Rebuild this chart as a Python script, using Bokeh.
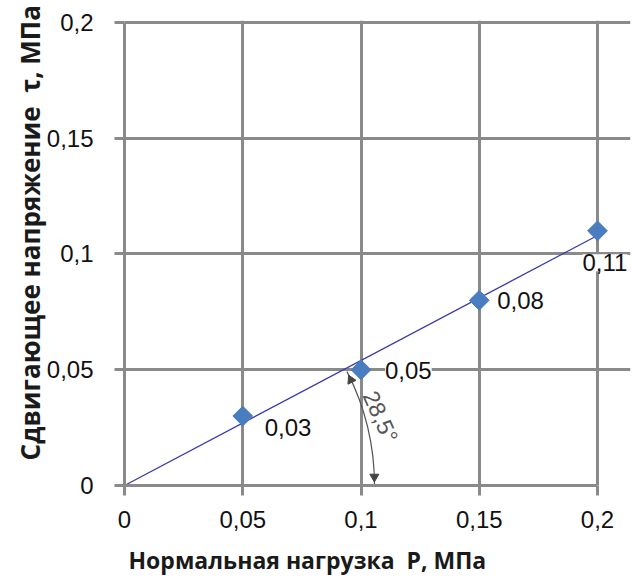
import numpy as np
from bokeh.plotting import figure
from bokeh.models import ColumnDataSource, FixedTicker, LabelSet, Label, Title
from bokeh.core.properties import value
from bokeh.embed import file_html
from bokeh.resources import INLINE

# data
load_p = [0.05, 0.10, 0.15, 0.20]
shear_t = [0.03, 0.05, 0.08, 0.11]
point_labels = ["0,03", "0,05", "0,08", "0,11"]
tick_values = [0.0, 0.05, 0.10, 0.15, 0.20]
tick_labels = ["0", "0,05", "0,1", "0,15", "0,2"]
angle_text = "28,5°"
y_title = "Сдвигающее напряжение\u00a0\u00a0τ, МПа"
x_title = "Нормальная нагрузка\u00a0\u00a0P, МПа"

# layout
W, H = 632, 587
ML, MR, MT, MB = 124, 2, 20, 100
PX_X, PX_Y = 473, 465            # pixels spanned by 0..0.2
kx, ky = PX_X / 0.2, PX_Y / 0.2
x_end = (W - ML - MR) / kx
y_end = (H - MT - MB) / ky

GRID = "#8a8a8a"
TICK_FONT = "Liberation Sans"

p = figure(width=W, height=H, output_backend="svg", toolbar_location=None,
           x_range=(0, x_end), y_range=(0, y_end),
           min_border_left=ML, min_border_right=MR,
           min_border_top=MT, min_border_bottom=MB)
p.outline_line_color = None
p.background_fill_color = "white"

for ax in (p.xaxis[0], p.yaxis[0]):
    ax.ticker = FixedTicker(ticks=tick_values)
    ax.major_label_overrides = {v: s for v, s in zip(tick_values, tick_labels)}
    ax.bounds = (0, 0.2)
    ax.axis_line_color = GRID
    ax.axis_line_width = 3
    ax.major_tick_line_color = GRID
    ax.major_tick_line_width = 3
    ax.major_tick_out = 10
    ax.major_tick_in = 0
    ax.minor_tick_line_color = None
    ax.major_label_text_font = TICK_FONT
    ax.major_label_text_font_size = "24px"
    ax.major_label_text_color = "#111111"
    ax.axis_label_text_font = "Open Sans"
    ax.axis_label_text_font_style = "bold"
    ax.axis_label_text_color = "#1a1a1a"

p.yaxis.axis_label_text_font_size = "26px"
p.yaxis.major_label_standoff = 21
p.xaxis.major_label_standoff = 15
p.yaxis.axis_label = "\u00a0" * 6 + y_title
p.yaxis.axis_label_standoff = -4

# x axis title, left-aligned under the frame
p.add_layout(Title(text=x_title, align="left", offset=4, standoff=23,
                   text_font="Open Sans", text_font_style="bold",
                   text_font_size="23px", text_color="#1a1a1a"), "below")

p.xgrid.ticker = FixedTicker(ticks=tick_values)
p.ygrid.ticker = FixedTicker(ticks=tick_values)
for g in (p.xgrid[0], p.ygrid[0]):
    g.grid_line_color = GRID
    g.grid_line_width = 3
    g.bounds = (0, 0.2)

# trend line through origin (least squares)
xs = np.array(load_p)
ys = np.array(shear_t)
slope = float((xs * ys).sum() / (xs * xs).sum())
p.line(x=[0, max(load_p)], y=[0, slope * max(load_p)], line_color="#3a3aa8", line_width=1.2)

# points
src = ColumnDataSource(dict(x=load_p, y=shear_t, lab=point_labels,
                            xo=[22, 24, 18, -15], yo=[-11, -1, 0, -32]))
p.scatter(x="x", y="y", source=src, marker="square", angle=np.pi / 4,
          size=14, fill_color="#4a7cc0", line_color="#4a7cc0")

labels = LabelSet(x="x", y="y", text="lab", source=src, x_offset="xo", y_offset="yo",
                  text_font=value(TICK_FONT), text_font_size="24px", text_color="#111111",
                  text_baseline="middle", text_align="left",
                  background_fill_color="white")
p.add_layout(labels)

# angle arc
theta = float(np.arctan(slope * ky / kx))
R = 250
p.arc(x=[0], y=[0], radius=R, radius_units="screen", start_angle=0.0,
      end_angle=theta - 0.015, line_color="#555555", line_width=1.2)
a_bot = 0.035
a_top = theta - 0.05
p.scatter(x=[R * np.cos(a_bot) / kx, R * np.cos(a_top) / kx],
          y=[R * np.sin(a_bot) / ky, R * np.sin(a_top) / ky],
          marker="triangle", size=9, angle=[np.pi, a_top],
          fill_color="#444444", line_color="#444444")

ang = Label(x=(380 - ML) / kx, y=(487 - 418) / ky, text=angle_text,
            text_font=TICK_FONT, text_font_size="23px", text_color="#555555",
            text_align="center", text_baseline="middle", angle=-1.15)
p.add_layout(ang)

open("out.html", "w").write(file_html(p, INLINE))
